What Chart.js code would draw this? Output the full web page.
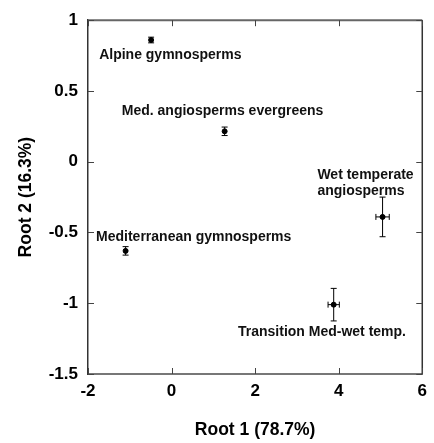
<!DOCTYPE html>
<html>
  <head>
    <meta charset="utf-8" />
    <title>Root scatter</title>
    <style>
      html, body { margin: 0; padding: 0; background: #fff; }
      #wrap { width: 434px; height: 443px; }
    </style>
  </head>
  <body>
    <div id="wrap"><canvas id="myChart" width="434" height="443"></canvas></div>

    <script src="https://cdn.jsdelivr.net/npm/chart.js@4/dist/chart.umd.min.js"></script>
    <script>
      // group means with standard errors
      const groups = [
        "Alpine gymnosperms",
        "Med. angiosperms evergreens",
        "Wet temperate angiosperms",
        "Mediterranean gymnosperms",
        "Transition Med-wet temp."
      ];
      const root1 = [-0.49, 1.27, 5.05, -1.1, 3.88];
      const root2 = [0.86, 0.215, -0.39, -0.63, -1.01];
      const root1Err = [0, 0, 0.16, 0, 0.135];
      const root2Err = [0.02, 0.03, 0.14, 0.03, 0.115];

      // where the group names sit (data units)
      const labelLines = [
        ["Alpine gymnosperms"],
        ["Med. angiosperms evergreens"],
        ["Wet temperate", "angiosperms"],
        ["Mediterranean gymnosperms"],
        ["Transition Med-wet temp."]
      ];
      const labelX = [-0.03, 1.22, 3.49, 0.53, 3.6];
      const labelY = [0.756, 0.354, -0.097, -0.53, -1.207];
      const labelAlign = ["center", "center", "left", "center", "center"];

      const xTicks = [-2, 0, 2, 4, 6];
      const yTicks = [-1.5, -1, -0.5, 0, 0.5, 1];

      const font = "'Liberation Sans', Arial, sans-serif";

      // error bars, labels, inward ticks and frame
      const extras = {
        id: "extras",
        afterDatasetsDraw(chart) {
          const ctx = chart.ctx;
          const xs = chart.scales.x;
          const ys = chart.scales.y;
          const a = chart.chartArea;
          ctx.save();

          // frame
          ctx.strokeStyle = "#666";
          ctx.lineWidth = 2;
          ctx.beginPath();
          ctx.moveTo(a.left, a.top);
          ctx.lineTo(a.right, a.top);
          ctx.stroke();
          ctx.strokeStyle = "#333";
          ctx.lineWidth = 1.5;
          ctx.beginPath();
          ctx.moveTo(a.right, a.top);
          ctx.lineTo(a.right, a.bottom);
          ctx.stroke();

          // inward ticks
          ctx.lineWidth = 1;
          ctx.strokeStyle = "#444";
          ctx.beginPath();
          xTicks.forEach((v) => {
            const px = Math.round(xs.getPixelForValue(v)) + 0.5;
            ctx.moveTo(px, a.bottom);
            ctx.lineTo(px, a.bottom - 6);
            ctx.moveTo(px, a.top);
            ctx.lineTo(px, a.top + 6);
          });
          yTicks.forEach((v) => {
            const py = Math.round(ys.getPixelForValue(v)) + 0.5;
            ctx.moveTo(a.left, py);
            ctx.lineTo(a.left + 6, py);
            ctx.moveTo(a.right, py);
            ctx.lineTo(a.right - 6, py);
          });
          ctx.stroke();

          // error bars
          ctx.strokeStyle = "#000";
          ctx.lineWidth = 1;
          ctx.beginPath();
          for (let i = 0; i < groups.length; i++) {
            const cx = xs.getPixelForValue(root1[i]);
            const cy = ys.getPixelForValue(root2[i]);
            if (root2Err[i] > 0) {
              const t = ys.getPixelForValue(root2[i] + root2Err[i]);
              const b = ys.getPixelForValue(root2[i] - root2Err[i]);
              ctx.moveTo(cx, t); ctx.lineTo(cx, b);
              ctx.moveTo(cx - 3, t); ctx.lineTo(cx + 3, t);
              ctx.moveTo(cx - 3, b); ctx.lineTo(cx + 3, b);
            }
            if (root1Err[i] > 0) {
              const l = xs.getPixelForValue(root1[i] - root1Err[i]);
              const r = xs.getPixelForValue(root1[i] + root1Err[i]);
              ctx.moveTo(l, cy); ctx.lineTo(r, cy);
              ctx.moveTo(l, cy - 3); ctx.lineTo(l, cy + 3);
              ctx.moveTo(r, cy - 3); ctx.lineTo(r, cy + 3);
            }
          }
          ctx.stroke();

          // group names
          ctx.fillStyle = "#111";
          ctx.font = "bold 14px " + font;
          ctx.textBaseline = "middle";
          for (let i = 0; i < labelLines.length; i++) {
            const px = xs.getPixelForValue(labelX[i]);
            const py = ys.getPixelForValue(labelY[i]);
            ctx.textAlign = labelAlign[i];
            labelLines[i].forEach((line, k) => {
              ctx.fillText(line, px, py + k * 16);
            });
          }
          ctx.restore();
        }
      };

      const ctx = document.getElementById("myChart").getContext("2d");
      const myChart = new Chart(ctx, {
        type: "scatter",
        data: {
          datasets: [
            {
              label: "Groups",
              data: root1.map((v, i) => ({ x: v, y: root2[i] })),
              backgroundColor: "#000",
              borderColor: "#000",
              pointRadius: 2.5,
              pointHoverRadius: 2.5
            }
          ]
        },
        options: {
          responsive: false,
          animation: false,
          layout: { padding: { top: 14, right: 8, left: 0, bottom: 0 } },
          plugins: {
            legend: { display: false },
            tooltip: { enabled: false }
          },
          scales: {
            x: {
              type: "linear",
              min: -2,
              max: 6,
              afterBuildTicks: (s) => { s.ticks = xTicks.map((v) => ({ value: v })); },
              afterFit: (s) => { s.height = 69; },
              grid: { display: false, drawTicks: false },
              border: { display: true, color: "#777", width: 2 },
              ticks: {
                padding: 7,
                color: "#000",
                callback: (v) => String(v),
                font: { family: font, size: 17, weight: "bold" }
              },
              title: {
                display: true,
                text: "Root 1 (78.7%)",
                color: "#000",
                padding: { top: 0, bottom: 2 },
                font: { family: font, size: 17.5, weight: "bold" }
              }
            },
            y: {
              type: "linear",
              min: -1.5,
              max: 1,
              afterBuildTicks: (s) => { s.ticks = yTicks.map((v) => ({ value: v })); },
              afterFit: (s) => { s.width = 88; },
              grid: { display: false, drawTicks: false },
              border: { display: true, color: "#333", width: 1.5 },
              ticks: {
                padding: 10,
                color: "#000",
                callback: (v) => String(v),
                font: { family: font, size: 17, weight: "bold" }
              },
              title: {
                display: true,
                text: "Root 2 (16.3%)",
                color: "#000",
                padding: { top: 16, bottom: 0 },
                font: { family: font, size: 17.5, weight: "bold" }
              }
            }
          }
        },
        plugins: [extras]
      });
    </script>
  </body>
</html>
